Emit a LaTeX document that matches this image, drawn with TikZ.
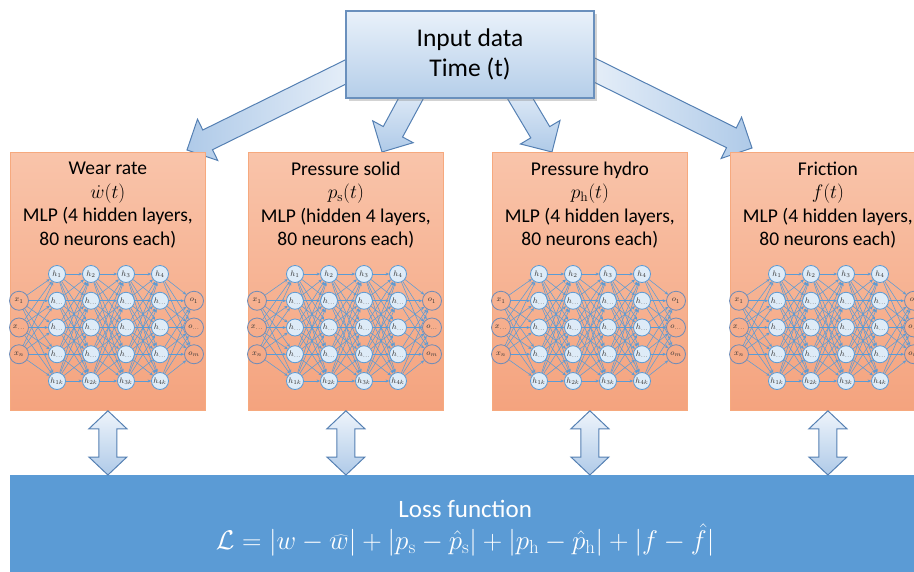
\RequirePackage{fix-cm}
\documentclass[tikz,border=0pt]{standalone}
\usepackage[no-math]{fontspec}
\setmainfont{Carlito}
\usetikzlibrary{calc, shadows, backgrounds, arrows.meta}

\definecolor{inputtop}{HTML}{E9F1FA}
\definecolor{inputbot}{HTML}{B5CEE9}
\definecolor{inputedge}{HTML}{6A90BD}
\definecolor{mlptop}{HTML}{F9C4AA}
\definecolor{mlpbot}{HTML}{F4A37E}
\definecolor{mlpedge}{HTML}{F6A97E}
\definecolor{lossblue}{HTML}{5B9BD5}
\definecolor{netblue}{HTML}{5B9BD5}
\definecolor{cellfill}{HTML}{DEEBF7}
\definecolor{portedge}{HTML}{6F8CB8}
\definecolor{arrowlight}{HTML}{EEF4FB}
\definecolor{arrowdark}{HTML}{AFCAE8}
\definecolor{arrowedge}{HTML}{5580B3}

\tikzset{
  inputbox/.style={draw=inputedge, line width=1.1pt, top color=inputtop, bottom color=inputbot,
    minimum width=248pt, minimum height=87pt, align=center, font=\fontsize{25.5}{30}\selectfont,
    drop shadow={shadow xshift=2.5pt, shadow yshift=-2.5pt, opacity=0.35}},
  mlpbox/.style={draw=mlpedge, line width=0.8pt, top color=mlptop, bottom color=mlpbot,
    minimum width=195pt, minimum height=258pt, anchor=north west, inner sep=0pt},
  mlptitle/.style={align=center, font=\fontsize{19.5}{23.5}\selectfont, inner sep=0pt},
  cell/.style={circle, draw=netblue, line width=0.8pt, fill=cellfill, minimum size=17pt,
    inner sep=0pt, font=\fontsize{8}{8}\selectfont, text=black!80},
  port/.style={circle, draw=portedge, line width=0.8pt, minimum size=19pt, inner sep=0pt,
    font=\fontsize{8}{8}\selectfont, text=black!80},
  link/.style={draw=netblue, line width=0.55pt, -{Stealth[length=3.5pt, width=3pt]}},
  fat/.style={draw=arrowedge, line width=1pt},
  twin/.style={draw=arrowedge, line width=1pt, top color=arrowlight, bottom color=arrowdark},
  lossbox/.style={fill=lossblue, minimum width=910pt, minimum height=106pt, anchor=north west,
    align=center, text=white, font=\fontsize{25}{32}\selectfont}
}

% fat arrow from a point (#2) to its tip (#3)
\newcommand{\fatarrow}[3][]{%
  \coordinate (fatbase) at ($(#3)!23pt!(#2)$);
  \path[fat, #1] ($(#2)!11pt!90:(#3)$) -- ($(fatbase)!11pt!90:(#3)$) -- ($(fatbase)!23pt!90:(#3)$)
    -- (#3) -- ($(fatbase)!23pt!-90:(#3)$) -- ($(fatbase)!11pt!-90:(#3)$) -- ($(#2)!11pt!-90:(#3)$) -- cycle;}

% vertical double arrow, top tip (#1) and bottom tip (#2)
\newcommand{\twinarrow}[2]{%
  \path[twin] (#1) -- ++(19,18) -- ++(-10,0) -- ($(#2)+(9,-18)$) -- ++(10,0) -- (#2)
    -- ++(-19,-18) -- ++(10,0) -- ($(#1)+(-9,18)$) -- ++(-10,0) -- cycle;}

\begin{document}
\begin{tikzpicture}[x=1pt, y=-1pt]
	\useasboundingbox (0,0) rectangle (914,571);
	\clip (0,0) rectangle (914,571);

	\node[inputbox] (input) at (470,54.5) {Input data\\Time (t)};

	\begin{pgfonlayer}{background}
		\coordinate (srcA) at (370,60);  \coordinate (tipA) at (187,150);
		\coordinate (srcB) at (422,78);  \coordinate (tipB) at (382,152);
		\coordinate (srcC) at (508,78);  \coordinate (tipC) at (552,152);
		\coordinate (srcD) at (570,58);  \coordinate (tipD) at (752,148);
		\fatarrow[left color=arrowdark, right color=arrowlight]{srcA}{tipA}
		\fatarrow[top color=arrowlight, bottom color=arrowdark]{srcB}{tipB}
		\fatarrow[top color=arrowlight, bottom color=arrowdark]{srcC}{tipC}
		\fatarrow[left color=arrowlight, right color=arrowdark]{srcD}{tipD}
	\end{pgfonlayer}

	\foreach \net/\bx/\head in {
		A/10/{Wear rate\\$\dot{w}(t)$\\MLP (4 hidden layers,\\80 neurons each)},
		B/248/{Pressure solid\\$p_{\mathrm{s}}(t)$\\MLP (hidden 4 layers,\\80 neurons each)},
		C/492/{Pressure hydro\\$p_{\mathrm{h}}(t)$\\MLP (4 hidden layers,\\80 neurons each)},
		D/730/{Friction\\$f(t)$\\MLP (4 hidden layers,\\80 neurons each)}} {
		\node[mlpbox] (mlp\net) at (\bx,152) {};
		\node[mlptitle] (title\net) at ($(mlp\net.north)+(0,53)$) {\head};

		% hidden layers
		\foreach \col/\cx in {1/47, 2/81, 3/116, 4/150}
		\foreach \row in {1,...,5}
		\node[cell] (\net h\col\row) at (\bx+\cx, 247.25+26.75*\row)
			{\ifnum\row=1 $h_{\col}$\else\ifnum\row=5 $h_{\col k}$\else $h_{\ldots}$\fi\fi};

		% inputs and outputs
		\foreach \pin in {1,2,3} {
			\node[port] (\net x\pin) at (\bx+9, 274+26.75*\pin)
				{\ifcase\pin\or $x_1$\or $x_{\ldots}$\or $x_n$\fi};
			\node[port] (\net o\pin) at (\bx+184, 274+26.75*\pin)
				{\ifcase\pin\or $o_1$\or $o_{\ldots}$\or $o_m$\fi};
		}

		\foreach \pin in {1,2,3}
		\foreach \row in {1,...,5} {
			\draw[link] (\net x\pin) -- (\net h1\row);
			\draw[link] (\net h4\row) -- (\net o\pin);
		}

		\foreach \col [evaluate=\col as \nxt using int(\col+1)] in {1,2,3}
		\foreach \row in {1,...,5}
		\foreach \sub in {1,...,5}
		\draw[link] (\net h\col\row) -- (\net h\nxt\sub);
	}

	\node[lossbox] (loss) at (10,475) {Loss function\\
		{\fontsize{27}{32}\selectfont$\mathcal{L} = \bigl|w-\widehat{w}\bigr| + \bigl|p_{\mathrm{s}}-\hat{p}_{\mathrm{s}}\bigr|
		+ \bigl|p_{\mathrm{h}}-\hat{p}_{\mathrm{h}}\bigr| + \bigl|f-\hat{f}\bigr|$}};

	\foreach \net in {A,B,C,D} {
		\coordinate (top\net) at (mlp\net.south);
		\coordinate (bot\net) at (mlp\net.south |- loss.north);
		\twinarrow{top\net}{bot\net}
	}

\end{tikzpicture}
\end{document}
